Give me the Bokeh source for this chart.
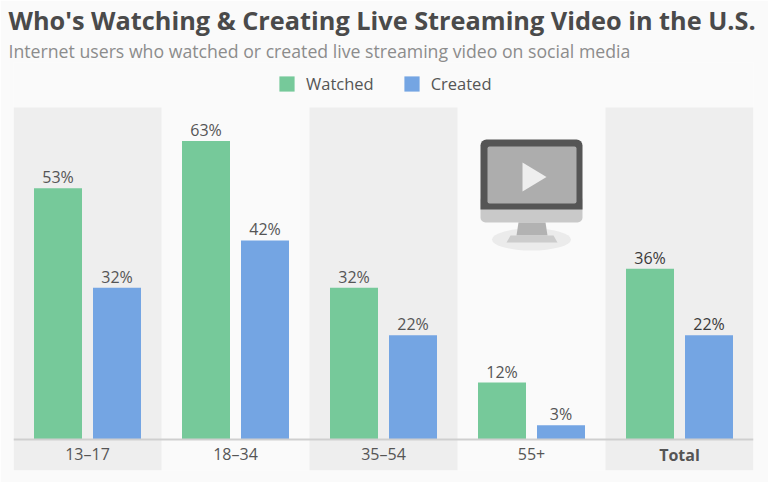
from bokeh.embed import file_html
from bokeh.resources import INLINE
from bokeh.plotting import figure
from bokeh.models import ColumnDataSource, FactorRange, Range1d, Title, Legend, LegendItem, CustomJSTickFormatter
from bokeh.core.properties import value
from bokeh.transform import dodge

categories = ["13–17", "18–34", "35–54", "55+", "Total"]
watched = [53, 63, 32, 12, 36]
created = [32, 42, 22, 3, 22]
band_categories = ["13–17", "35–54", "Total"]

GREEN = "#76c99a"
BLUE = "#74a5e3"
TEXT = "#555555"
FONT = "Open Sans"

W, H = 768, 482
FRAME_TOP = 62


def px(x):
    return (x - 13) / 148.0


def py(y):
    return (439 - y) / 4.74


p = figure(width=W, height=H, output_backend="svg", toolbar_location=None,
           x_range=FactorRange(factors=categories, range_padding=0),
           y_range=Range1d(py(470), py(FRAME_TOP)),
           min_border_left=13, min_border_right=15, min_border_top=FRAME_TOP, min_border_bottom=12,
           background_fill_color="#fafafa", border_fill_color="#fafafa", outline_line_color=None)
p.grid.visible = False
p.yaxis.visible = False

# alternate bands
p.vbar(x=band_categories, width=1, bottom=py(470), top=py(107),
       fill_color="#eeeeee", line_color=None)

# monitor icon (decorative)
p.ellipse(x=[px(531)], y=[py(239)], width=[79 / 148], height=[22 / 4.74], fill_color="#ebebeb", line_color=None)
p.quad(left=[px(480)], right=[px(582)], top=[py(195)], bottom=[py(222)], fill_color="#c9c9c9", line_color=None, border_radius=5)
p.quad(left=[px(480)], right=[px(582)], top=[py(139)], bottom=[py(209)], fill_color="#555555", line_color=None, border_radius=(6, 6, 0, 0))
p.quad(left=[px(487)], right=[px(576)], top=[py(146)], bottom=[py(203)], fill_color="#adadad", line_color=None, border_radius=2)
p.patch(x=[px(518), px(545), px(547), px(516)], y=[py(222), py(222), py(235), py(235)], fill_color="#b2b2b2", line_color=None)
p.patch(x=[px(510), px(553), px(557), px(506)], y=[py(235), py(235), py(242), py(242)], fill_color="#cccccc", line_color=None)
p.patch(x=[px(522), px(546), px(522)], y=[py(162), py(176.5), py(191)], fill_color="#eeeeee", line_color=None)

label_colors = [TEXT, TEXT, TEXT, TEXT, "#3a3a3a"]
src = ColumnDataSource(dict(cat=categories, watched=watched, created=created, lc=label_colors,
                            wl=[f"{v}%" for v in watched], cl=[f"{v}%" for v in created]))
BAR_W = 48 / 148
OFF = 29.5 / 148
r1 = p.vbar(x=dodge("cat", -OFF, range=p.x_range), top="watched", bottom=0, width=BAR_W, source=src,
            fill_color=GREEN, line_color=None)
r2 = p.vbar(x=dodge("cat", OFF, range=p.x_range), top="created", bottom=0, width=BAR_W, source=src,
            fill_color=BLUE, line_color=None)

for col, lab, off in (("watched", "wl", -OFF), ("created", "cl", OFF)):
    p.text(x=dodge("cat", off, range=p.x_range), y=col, text=lab, source=src,
           text_align="center", text_baseline="bottom", y_offset=0,
           text_font=value(FONT), text_font_size="16px", text_color="lc")

# axis on the baseline; the Total label is bold, so it is drawn separately
ax = p.xaxis[0]
ax.fixed_location = 0
ax.axis_line_color = "#cfcfcf"
ax.axis_line_width = 2
ax.major_tick_line_color = None
ax.minor_tick_line_color = None
ax.major_label_text_font = FONT
ax.major_label_text_font_size = "16px"
ax.major_label_text_color = TEXT
ax.major_label_standoff = -3
ax.formatter = CustomJSTickFormatter(code="return tick == 'Total' ? '' : tick;")
p.text(x=["Total"], y=[0], text=["Total"], text_align="center", text_baseline="top", y_offset=4,
       text_font=value(FONT), text_font_size="16px", text_font_style="bold", text_color=TEXT)

legend = Legend(items=[LegendItem(label="Watched", renderers=[r1]), LegendItem(label="Created", renderers=[r2])],
                orientation="horizontal", location=(264, 375), margin=0, padding=0, spacing=28,
                glyph_width=19, glyph_height=19, label_standoff=10,
                label_text_font=FONT, label_text_font_size="16.5px", label_text_color=TEXT,
                background_fill_alpha=0, border_line_color=None)
p.add_layout(legend)

p.add_layout(Title(text="Internet users who watched or created live streaming video on social media",
                   text_font=FONT, text_font_size="17.7px", text_font_style="normal", text_color="#8c8c8c",
                   offset=-5, standoff=0), "above")
p.add_layout(Title(text="Who's Watching & Creating Live Streaming Video in the U.S.",
                   text_font=FONT, text_font_size="25.3px", text_font_style="bold", text_color="#4a4a4a",
                   offset=-5, standoff=0), "above")

open("out.html", "w").write(file_html(p, INLINE))
